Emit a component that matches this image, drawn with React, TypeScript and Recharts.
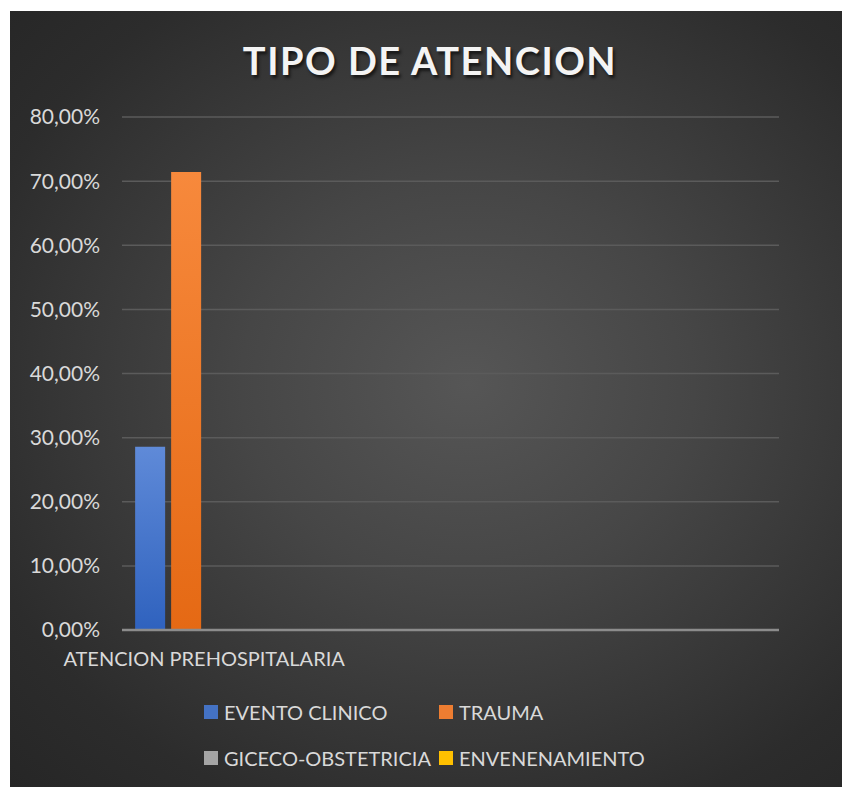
import { BarChart, Bar, XAxis, YAxis, CartesianGrid } from "recharts";

const categories = ["ATENCION PREHOSPITALARIA", " ", "  ", "   "];
const eventoClinico = [0.2857, null, null, null];
const trauma = [0.7143, null, null, null];
const gicecoObstetricia = [0, null, null, null];
const envenenamiento = [0, null, null, null];
const yTicks = [0, 0.1, 0.2, 0.3, 0.4, 0.5, 0.6, 0.7, 0.8];

const series = [
  { key: "evento", name: "EVENTO CLINICO", top: "#5f8ad8", bottom: "#2f62be", swatch: "#4472c4" },
  { key: "trauma", name: "TRAUMA", top: "#f7893c", bottom: "#e56914", swatch: "#ed7d31" },
  { key: "giceco", name: "GICECO-OBSTETRICIA", top: "#b4b4b4", bottom: "#8e8e8e", swatch: "#a5a5a5" },
  { key: "enven", name: "ENVENENAMIENTO", top: "#ffd23a", bottom: "#f2b400", swatch: "#ffc000" },
];

const data = categories.map((c, i) => ({
  name: c,
  evento: eventoClinico[i],
  trauma: trauma[i],
  giceco: gicecoObstetricia[i],
  enven: envenenamiento[i],
}));

const font = "Lato, 'Open Sans', sans-serif";

const fmt = (v: number) => (v * 100).toFixed(2).replace(".", ",") + "%";

export default function App() {
  return (
    <div style={{ width: 842, height: 787, boxSizing: "border-box", padding: "11px 0 0 10px", overflow: "hidden" }}>
      <style>{"body{margin:0;}"}</style>
      <div
        style={{
          position: "relative",
          width: 832,
          height: 776,
          background: "radial-gradient(ellipse at 55% 48%, #565656 0%, #464646 35%, #2c2c2c 80%, #262626 100%)",
          fontFamily: font,
        }}
      >
        <div
          style={{
            position: "absolute",
            top: 26,
            left: 0,
            width: 840,
            textAlign: "center",
            color: "#f4f4f4",
            fontSize: 38,
            fontWeight: 700,
            letterSpacing: 1.5,
            textShadow: "2px 3px 3px rgba(0,0,0,0.6)",
          }}
        >
          TIPO DE ATENCION
        </div>
        <BarChart
          width={832}
          height={776}
          data={data}
          margin={{ top: 106, right: 63, bottom: 117, left: 0 }}
          barCategoryGap="8%"
          barGap={6}
          style={{ position: "absolute", top: 0, left: 0 }}
        >
          <defs>
            {series.map((s) => (
              <linearGradient key={s.key} id={`g-${s.key}`} x1="0" y1="0" x2="0" y2="1">
                <stop offset="0%" stopColor={s.top} />
                <stop offset="100%" stopColor={s.bottom} />
              </linearGradient>
            ))}
          </defs>
          <CartesianGrid vertical={false} stroke="#5b5b5b" strokeWidth={1.5} />
          <XAxis
            dataKey="name"
            height={40}
            axisLine={{ stroke: "#8c8c8c", strokeWidth: 2.5 }}
            tickLine={false}
            tick={{ fill: "#d9d9d9", fontSize: 20, fontFamily: font }}
            tickMargin={16}
            interval={0}
          />
          <YAxis
            domain={[0, 0.8]}
            ticks={yTicks}
            tickFormatter={fmt}
            axisLine={false}
            tickLine={false}
            tickSize={0}
            tickMargin={22}
            width={112}
            tick={{ fill: "#d9d9d9", fontSize: 21, fontFamily: font }}
          />
          {series.map((s) => (
            <Bar key={s.key} dataKey={s.key} name={s.name} fill={`url(#g-${s.key})`} isAnimationActive={false} />
          ))}
        </BarChart>
        <div
          style={{
            position: "absolute",
            top: 688,
            left: 194,
            display: "grid",
            gridTemplateColumns: "235px 235px",
            rowGap: 20,
            color: "#d9d9d9",
            fontSize: 20,
          }}
        >
          {series.map((s) => (
            <div key={s.key} style={{ display: "flex", alignItems: "center", height: 26 }}>
              <span style={{ width: 14, height: 14, background: s.swatch, marginRight: 6, flex: "none" }} />
              <span>{s.name}</span>
            </div>
          ))}
        </div>
      </div>
    </div>
  );
}
